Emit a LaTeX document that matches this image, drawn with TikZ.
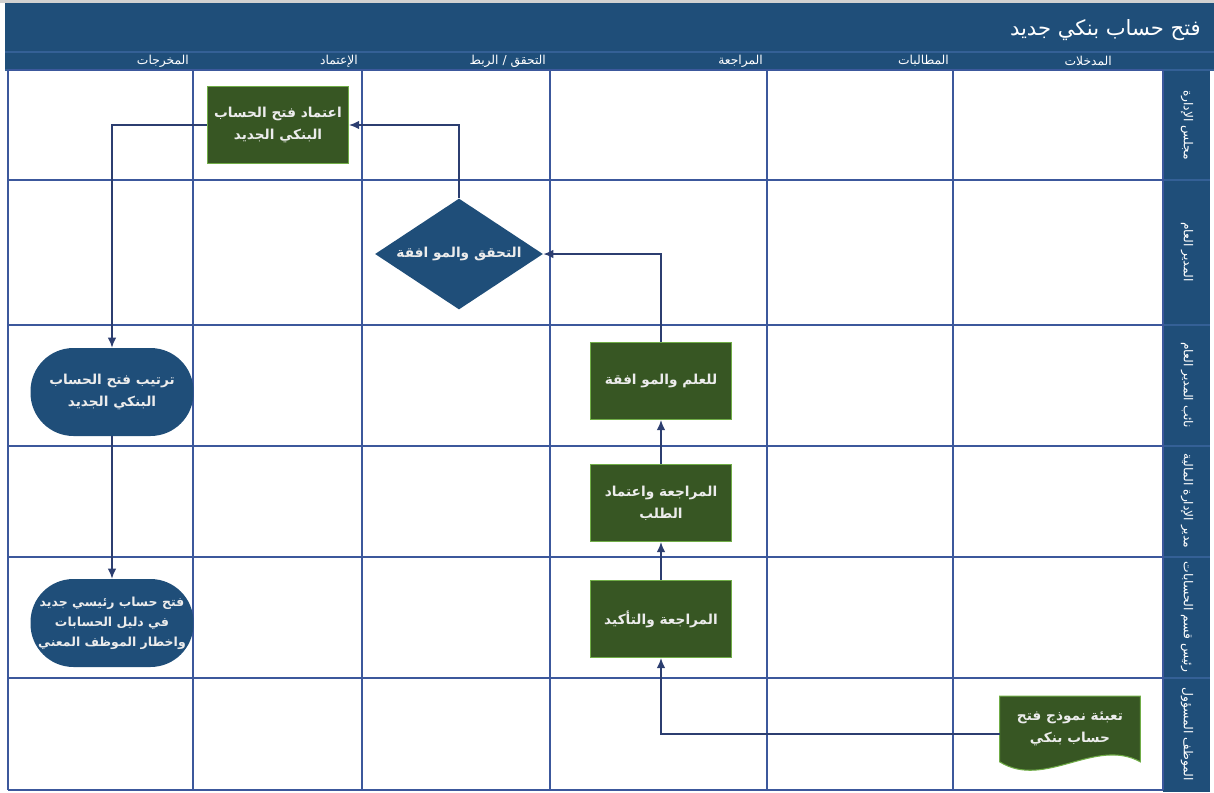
\documentclass[tikz,border=0pt]{standalone}
\usepackage{fontspec}
\usetikzlibrary{shapes.geometric,backgrounds,arrows.meta}
\TeXXeTstate=1
\newfontfamily\arabicfont[Script=Arabic]{DejaVu Sans}
\newcommand\ar[1]{\beginR#1\endR}
\definecolor{headblue}{RGB}{31,78,121}
\definecolor{sepblue}{RGB}{52,96,150}
\definecolor{gridblue}{RGB}{60,88,156}
\definecolor{boxgreen}{RGB}{55,86,35}
\definecolor{edgegreen}{RGB}{112,173,71}
\definecolor{arrowcol}{RGB}{44,62,112}
\definecolor{boxtext}{RGB}{236,236,236}
\begin{document}
\begin{tikzpicture}[x=0.02cm,y=-0.02cm,
  lane/.style={draw=gridblue,line width=1.1pt},
  boxfont/.style={font=\arabicfont\bfseries\fontsize{7.8}{12.5}\selectfont,text=boxtext,align=center},
  greenbox/.style={boxfont,rectangle,fill=boxgreen,draw=edgegreen,line width=0.6pt,minimum width=2.82cm,minimum height=1.54cm},
  bluedia/.style={boxfont,diamond,aspect=1.5,fill=headblue,inner sep=0pt,minimum width=3.36cm,minimum height=2.22cm},
  stadium/.style={boxfont,rectangle,rounded corners=0.86cm,fill=headblue,minimum width=3.26cm,minimum height=1.76cm,inner sep=0.5pt},
  colhead/.style={font=\arabicfont\fontsize{7}{8}\selectfont,text=white,anchor=east,inner sep=1pt},
  rowhead/.style={font=\arabicfont\fontsize{7}{8}\selectfont,text=white,rotate=-90,inner sep=1pt},
  flow/.style={draw=arrowcol,line width=0.9pt,-{Latex[length=2mm,width=1.7mm]}}]
\useasboundingbox (0,0) rectangle (1214,792);
\fill[black!18] (0,0) rectangle (1214,3);
\fill[headblue] (5,3) rectangle (1214,70);
\fill[headblue] (1163,70) rectangle (1210,792);
\draw[sepblue,line width=0.8pt] (5,52) -- (1214,52);
\draw[sepblue,line width=0.8pt] (5,70) -- (1214,70);
\node[font=\arabicfont\fontsize{12}{14}\selectfont,text=white,anchor=east] (title) at (1207,30) {\ar{فتح حساب بنكي جديد}};
\foreach \yy in {180,325,446,557,678}
  \draw[sepblue,line width=0.8pt] (1163,\yy) -- (1210,\yy);
\foreach \xx in {8,193,362,550,767,953,1163}
  \draw[lane] (\xx,70) -- (\xx,790);
\foreach \yy in {70,180,325,446,557,678,790}
  \draw[lane] (8,\yy) -- (1163,\yy);
\node[colhead] (hin) at (1114,61) {\ar{المدخلات}};
\node[colhead] (hreq) at (951,61) {\ar{المطالبات}};
\node[colhead] (hrev) at (765,61) {\ar{المراجعة}};
\node[colhead] (hchk) at (548,61) {\ar{التحقق / الربط}};
\node[colhead] (happ) at (360,61) {\ar{الإعتماد}};
\node[colhead] (hout) at (191,61) {\ar{المخرجات}};
\node[rowhead] (rboard) at (1187,125) {\ar{مجلس الإدارة}};
\node[rowhead] (rgm) at (1187,252) {\ar{المدير العام}};
\node[rowhead] (rdgm) at (1187,385) {\ar{نائب المدير العام}};
\node[rowhead] (rfin) at (1187,501) {\ar{مدير الإدارة المالية}};
\node[rowhead] (racc) at (1187,617) {\ar{رئيس قسم الحسابات}};
\node[rowhead] (rclerk) at (1187,734) {\ar{الموظف المسؤول}};
\node[greenbox] (approve) at (278,125) {\ar{اعتماد فتح الحساب}\\\ar{البنكي الجديد}};
\node[bluedia] (check) at (459,254) {\ar{التحقق والمو افقة}};
\node[greenbox] (inform) at (661,381) {\ar{للعلم والمو افقة}};
\node[greenbox] (revapp) at (661,503) {\ar{المراجعة واعتماد}\\\ar{الطلب}};
\node[greenbox] (confirm) at (661,619) {\ar{المراجعة والتأكيد}};
\node[stadium] (arrange) at (112,392) {\ar{ترتيب فتح الحساب}\\\ar{البنكي الجديد}};
\node[stadium,font=\arabicfont\bfseries\fontsize{7.1}{11.5}\selectfont] (notify) at (112,623) {\ar{فتح حساب رئيسي جديد}\\\ar{في دليل الحسابات}\\\ar{واخطار الموظف المعني}};
\node[boxfont,minimum width=2.8cm,minimum height=1.3cm] (doc) at (1070,729) {\ar{تعبئة نموذج فتح}\\\ar{حساب بنكي}};
\begin{scope}[on background layer]
\filldraw[fill=boxgreen,draw=edgegreen,line width=0.6pt] (doc.north west) -- (doc.north east) -- (doc.south east)
  .. controls +(-45,-25) and +(45,28) .. (doc.south west) -- cycle;
\end{scope}
\draw[flow] ([yshift=-0.1cm]doc.west) -| (confirm.south);
\draw[flow] (confirm.north) -- (revapp.south);
\draw[flow] (revapp.north) -- (inform.south);
\draw[flow] (inform.north) |- (check.east);
\draw[flow] (check.north) |- (approve.east);
\draw[flow] (approve.west) -| (arrange.north);
\draw[flow] (arrange.south) -- (notify.north);
\end{tikzpicture}
\end{document}
